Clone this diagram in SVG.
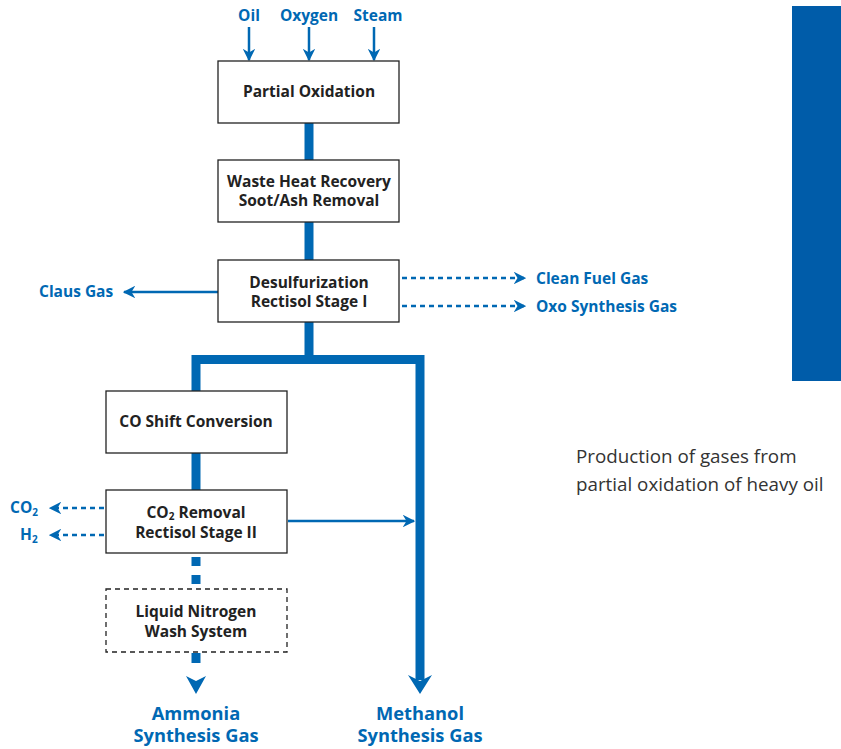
<svg xmlns="http://www.w3.org/2000/svg" width="841" height="749" viewBox="0 0 841 749">
<style>
.box{fill:#fff;stroke:#222;stroke-width:1.3}
.dbox{fill:#fff;stroke:#222;stroke-width:1.3;stroke-dasharray:5,4}
.bt{font-family:"Open Sans",sans-serif;font-weight:bold;font-size:15.5px;fill:#222;text-anchor:middle}
.lb{font-family:"Open Sans",sans-serif;font-weight:bold;font-size:15.5px;fill:#0068B3}
.big{font-family:"Open Sans",sans-serif;font-weight:bold;font-size:18.3px;fill:#0068B3;text-anchor:middle}
.thin{stroke:#0068B3;stroke-width:2.5;fill:none}
.dash{stroke:#0068B3;stroke-width:2.5;fill:none;stroke-dasharray:5,4}
.thick{stroke:#0068B3;stroke-width:9;fill:none}
.cap{font-family:"Open Sans",sans-serif;font-size:18.8px;fill:#333}
</style>
<defs>
<marker id="ah" viewBox="0 0 10 10" refX="9" refY="5" markerWidth="5" markerHeight="5" markerUnits="strokeWidth" orient="auto">
<path d="M0,0 L10,5 L0,10 L3,5 z" fill="#0068B3"/>
</marker>
</defs>
<rect x="792" y="6" width="49" height="375" fill="#005CA9"/>
<g id="connectors">
<line class="thin" x1="249" y1="27" x2="249" y2="60" marker-end="url(#ah)"/>
<line class="thin" x1="309" y1="27" x2="309" y2="60" marker-end="url(#ah)"/>
<line class="thin" x1="374" y1="27" x2="374" y2="60" marker-end="url(#ah)"/>
<line class="thick" x1="309" y1="123" x2="309" y2="160"/>
<line class="thick" x1="309" y1="222" x2="309" y2="260"/>
<line class="thin" x1="218" y1="292" x2="124" y2="292" marker-end="url(#ah)"/>
<line class="dash" x1="402" y1="278" x2="525" y2="278" marker-end="url(#ah)"/>
<line class="dash" x1="402" y1="306" x2="525" y2="306" marker-end="url(#ah)"/>
<path class="thick" d="M309,322 V359.5 M196,391 V359.5 H420 V680"/>
<path d="M408,675 L420,694 L432,675 L420,681 z" fill="#0068B3"/>
<line class="thick" x1="196" y1="453" x2="196" y2="490"/>
<line class="dash" x1="104" y1="508" x2="50" y2="508" marker-end="url(#ah)"/>
<line class="dash" x1="104" y1="535" x2="50" y2="535" marker-end="url(#ah)"/>
<line class="thin" x1="288" y1="521" x2="414" y2="521" marker-end="url(#ah)"/>
<line class="thick" x1="196" y1="557" x2="196" y2="585" stroke-dasharray="9,9"/>
<line class="thick" x1="196" y1="653" x2="196" y2="663"/>
<path d="M186,676 L196,694 L206,676 L196,681 z" fill="#0068B3"/>
</g>
<g id="inputs">
<text class="lb" x="249" y="21" text-anchor="middle">Oil</text>
<text class="lb" x="309" y="21" text-anchor="middle">Oxygen</text>
<text class="lb" x="378" y="21" text-anchor="middle">Steam</text>
</g>
<g id="partial-oxidation">
<rect class="box" x="218" y="61" width="181" height="62"/>
<text class="bt" x="309" y="97">Partial Oxidation</text>
</g>
<g id="waste-heat">
<rect class="box" x="218" y="160" width="181" height="62"/>
<text class="bt" x="309" y="187">Waste Heat Recovery</text>
<text class="bt" x="309" y="206">Soot/Ash Removal</text>
</g>
<g id="desulfurization">
<rect class="box" x="218" y="260" width="181" height="62"/>
<text class="bt" x="309" y="288">Desulfurization</text>
<text class="bt" x="309" y="307">Rectisol Stage I</text>
</g>
<g id="claus-gas"><text class="lb" x="39" y="297">Claus Gas</text></g>
<g id="clean-fuel-gas"><text class="lb" x="536" y="284">Clean Fuel Gas</text></g>
<g id="oxo-gas"><text class="lb" x="536" y="312">Oxo Synthesis Gas</text></g>
<g id="co-shift">
<rect class="box" x="106" y="391" width="181" height="62"/>
<text class="bt" x="196" y="427">CO Shift Conversion</text>
</g>
<g id="co2-removal">
<rect class="box" x="106" y="490" width="181" height="63"/>
<text class="bt" x="196" y="518">CO<tspan font-size="10" dy="2">2</tspan><tspan dy="-2"> Removal</tspan></text>
<text class="bt" x="196" y="538">Rectisol Stage II</text>
</g>
<g id="co2-out"><text class="lb" x="10" y="513">CO<tspan font-size="10" dy="3">2</tspan></text></g>
<g id="h2-out"><text class="lb" x="20" y="540">H<tspan font-size="10" dy="3">2</tspan></text></g>
<g id="liquid-nitrogen">
<rect class="dbox" x="106" y="589" width="181" height="63"/>
<text class="bt" x="196" y="617">Liquid Nitrogen</text>
<text class="bt" x="196" y="637">Wash System</text>
</g>
<g id="ammonia">
<text class="big" x="196" y="720">Ammonia</text>
<text class="big" x="196" y="742">Synthesis Gas</text>
</g>
<g id="methanol">
<text class="big" x="420" y="720">Methanol</text>
<text class="big" x="420" y="742">Synthesis Gas</text>
</g>
<g id="caption">
<text class="cap" x="576" y="463">Production of gases from</text>
<text class="cap" x="576" y="491">partial oxidation of heavy oil</text>
</g>
</svg>
